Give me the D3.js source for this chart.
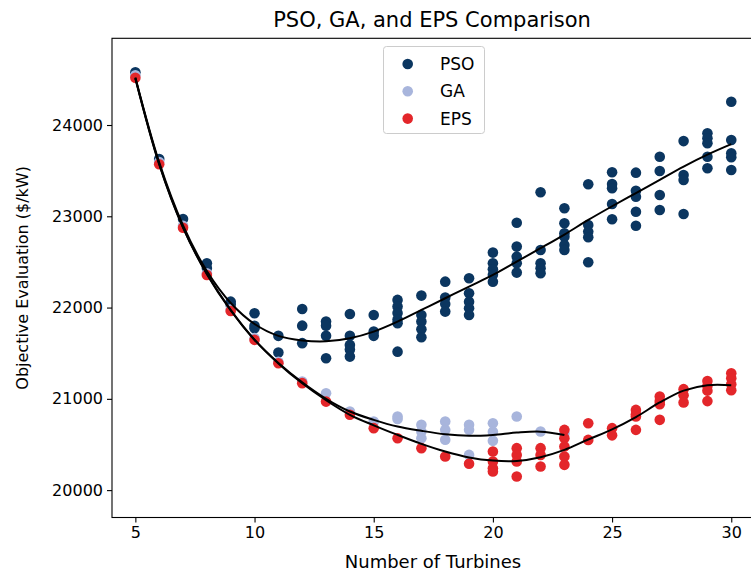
<!DOCTYPE html>
<html>
<head>
<meta charset="utf-8">
<script src="https://cdn.jsdelivr.net/npm/d3@7"></script>
<style>
  html, body { margin: 0; padding: 0; background: #fff; }
  svg { display: block; font-family: "DejaVu Sans", sans-serif; }
</style>
</head>
<body>
<svg id="chart" width="751" height="575"></svg>
<script>
// ---- data ----
const xTicks = [5, 10, 15, 20, 25, 30];
const yTicks = [20000, 21000, 22000, 23000, 24000];
const seriesNames = ["PSO", "GA", "EPS"];

const psoPoints = [
  [5,24577],[6,23627],[7,22970],[8,22485],[8,22434],[9,22065],[9,22030],
  [10,21938],[10,21800],[10,21774],[11,21690],[11,21507],
  [12,21985],[12,21802],[12,21610],
  [13,21846],[13,21800],[13,21690],[13,21445],
  [14,21930],[14,21690],[14,21591],[14,21540],[14,21463],
  [15,21919],[15,21737],[15,21690],
  [16,22084],[16,22011],[16,21940],[16,21870],[16,21828],[16,21517],
  [17,22131],[17,21919],[17,21846],[17,21762],[17,21675],
  [18,22284],[18,22110],[18,22040],[18,21956],
  [19,22321],[19,22157],[19,22065],[19,21993],[19,21919],
  [20,22602],[20,22485],[20,22420],[20,22360],[20,22284],
  [21,22930],[21,22668],[21,22558],[21,22485],[21,22383],
  [22,23263],[22,22631],[22,22485],[22,22431],[22,22376],
  [23,23088],[23,22924],[23,22814],[23,22777],[23,22686],[23,22631],
  [24,23351],[24,22905],[24,22832],[24,22770],[24,22496],
  [25,23482],[25,23354],[25,23307],[25,23135],[25,22967],
  [26,23478],[26,23280],[26,23215],[26,23050],[26,22897],
  [27,23653],[27,23496],[27,23233],[27,23069],
  [28,23824],[28,23452],[28,23398],[28,23025],
  [29,23909],[29,23854],[29,23800],[29,23653],[29,23526],
  [30,24255],[30,23836],[30,23690],[30,23646],[30,23507]
];

const gaPoints = [
  [5,24545],[6,23595],[7,22895],[8,22375],[9,21980],[10,21665],[11,21405],[12,21190],
  [13,21062],[14,20861],[15,20751],[16,20806],[16,20780],
  [17,20715],[17,20642],[17,20569],
  [18,20751],[18,20660],[18,20551],
  [19,20715],[19,20660],[19,20386],
  [20,20733],[20,20640],[20,20540],
  [21,20806],[22,20642],[23,20620]
];

const epsPoints = [
  [5,24518],[6,23570],[7,22875],[8,22357],[9,21963],[10,21646],[11,21390],[12,21172],
  [13,20970],[14,20825],[15,20679],[16,20569],[17,20460],[18,20368],[19,20290],
  [20,20423],[20,20313],[20,20240],[20,20204],
  [21,20460],[21,20386],[21,20313],[21,20149],
  [22,20460],[22,20386],[22,20258],
  [23,20660],[23,20569],[23,20478],[23,20368],[23,20277],
  [24,20733],[24,20550],
  [25,20679],[25,20600],
  [26,20879],[26,20830],[26,20806],[26,20660],
  [27,21025],[27,20975],[27,20940],[27,20770],
  [28,21106],[28,21040],[28,20960],
  [29,21195],[29,21140],[29,21090],[29,20975],
  [30,21281],[30,21225],[30,21160],[30,21095]
];

const curveX = [5,6,7,8,9,10,11,12,13,14,15,16,17,18,19,20,21,22,23,24,25,26,27,28,29,30];
const psoCurve = [24520,23590,22900,22400,22050,21820,21690,21640,21630,21664,21737,21846,21974,22102,22230,22357,22503,22650,22800,22960,23110,23255,23400,23545,23675,23790];
const gaCurveX = [5,6,7,8,9,10,11,12,13,14,15,16,17,18,19,20,21,22,23];
const gaCurve = [24515,23575,22880,22372,21975,21648,21392,21180,21000,20861,20770,20697,20650,20612,20595,20605,20630,20640,20605];
const epsCurve = [24510,23568,22875,22365,21968,21645,21388,21170,20985,20825,20710,20605,20507,20423,20358,20324,20320,20361,20441,20555,20665,20800,20960,21090,21150,21150];

const colors = { PSO: "#0b3660", GA: "#a8b5dc", EPS: "#e3262a" };

// ---- layout ----
const svg = d3.select("#chart");
const plot = { left: 112, right: 752, top: 38.3, bottom: 517.5 };

const x = d3.scaleLinear().domain([4.02, 30.87]).range([plot.left, plot.right]);
const y = d3.scaleLinear().domain([19700, 24950]).range([plot.bottom, plot.top]);

// points
const dots = svg.append("g");
function drawPoints(pts, color) {
  dots.selectAll(null).data(pts).enter().append("circle")
    .attr("cx", d => x(d[0])).attr("cy", d => y(d[1]))
    .attr("r", 5.3).attr("fill", color);
}
drawPoints(psoPoints, colors.PSO);
drawPoints(gaPoints, colors.GA);
drawPoints(epsPoints, colors.EPS);

// curves
const line = d3.line().x(d => x(d[0])).y(d => y(d[1])).curve(d3.curveCatmullRom.alpha(0.5));
const curves = [
  d3.zip(curveX, psoCurve),
  d3.zip(gaCurveX, gaCurve),
  d3.zip(curveX, epsCurve)
];
svg.append("g").selectAll("path").data(curves).enter().append("path")
  .attr("d", line).attr("fill", "none").attr("stroke", "#000").attr("stroke-width", 2);

// axes
const xAxis = d3.axisBottom(x).tickValues(xTicks).tickSize(5).tickPadding(4).tickFormat(d3.format("d"));
const yAxis = d3.axisLeft(y).tickValues(yTicks).tickSize(5).tickPadding(4).tickFormat(d3.format("d"));
const gx = svg.append("g").attr("transform", `translate(0,${plot.bottom})`).call(xAxis);
const gy = svg.append("g").attr("transform", `translate(${plot.left},0)`).call(yAxis);
[gx, gy].forEach(g => {
  g.select(".domain").remove();
  g.selectAll("text").attr("font-size", 16).attr("fill", "#000")
   .attr("font-family", "DejaVu Sans, sans-serif");
  g.selectAll("line").attr("stroke", "#000").attr("stroke-width", 1.1);
});

// frame
svg.append("rect").attr("x", plot.left).attr("y", plot.top)
  .attr("width", plot.right - plot.left).attr("height", plot.bottom - plot.top)
  .attr("fill", "none").attr("stroke", "#000").attr("stroke-width", 1.1);

// title & labels
svg.append("text").attr("x", 432).attr("y", 27)
  .attr("text-anchor", "middle").attr("font-size", 21).text("PSO, GA, and EPS Comparison");
svg.append("text").attr("x", 433).attr("y", 568)
  .attr("text-anchor", "middle").attr("font-size", 18).text("Number of Turbines");
svg.append("text").attr("transform", `translate(28,${(plot.top + plot.bottom) / 2}) rotate(-90)`)
  .attr("text-anchor", "middle").attr("font-size", 16).text("Objective Evaluation ($/kW)");

// legend
const lg = svg.append("g");
lg.append("rect").attr("x", 383.5).attr("y", 46.5).attr("width", 101).attr("height", 87)
  .attr("rx", 3).attr("fill", "#fff").attr("fill-opacity", 0.8)
  .attr("stroke", "#cccccc").attr("stroke-width", 1);
seriesNames.forEach((name, i) => {
  const cy = 64 + i * 27.3;
  lg.append("circle").attr("cx", 407.7).attr("cy", cy).attr("r", 5.3).attr("fill", colors[name]);
  lg.append("text").attr("x", 440).attr("y", cy + 6).attr("font-size", 17).text(name);
});
</script>
</body>
</html>
